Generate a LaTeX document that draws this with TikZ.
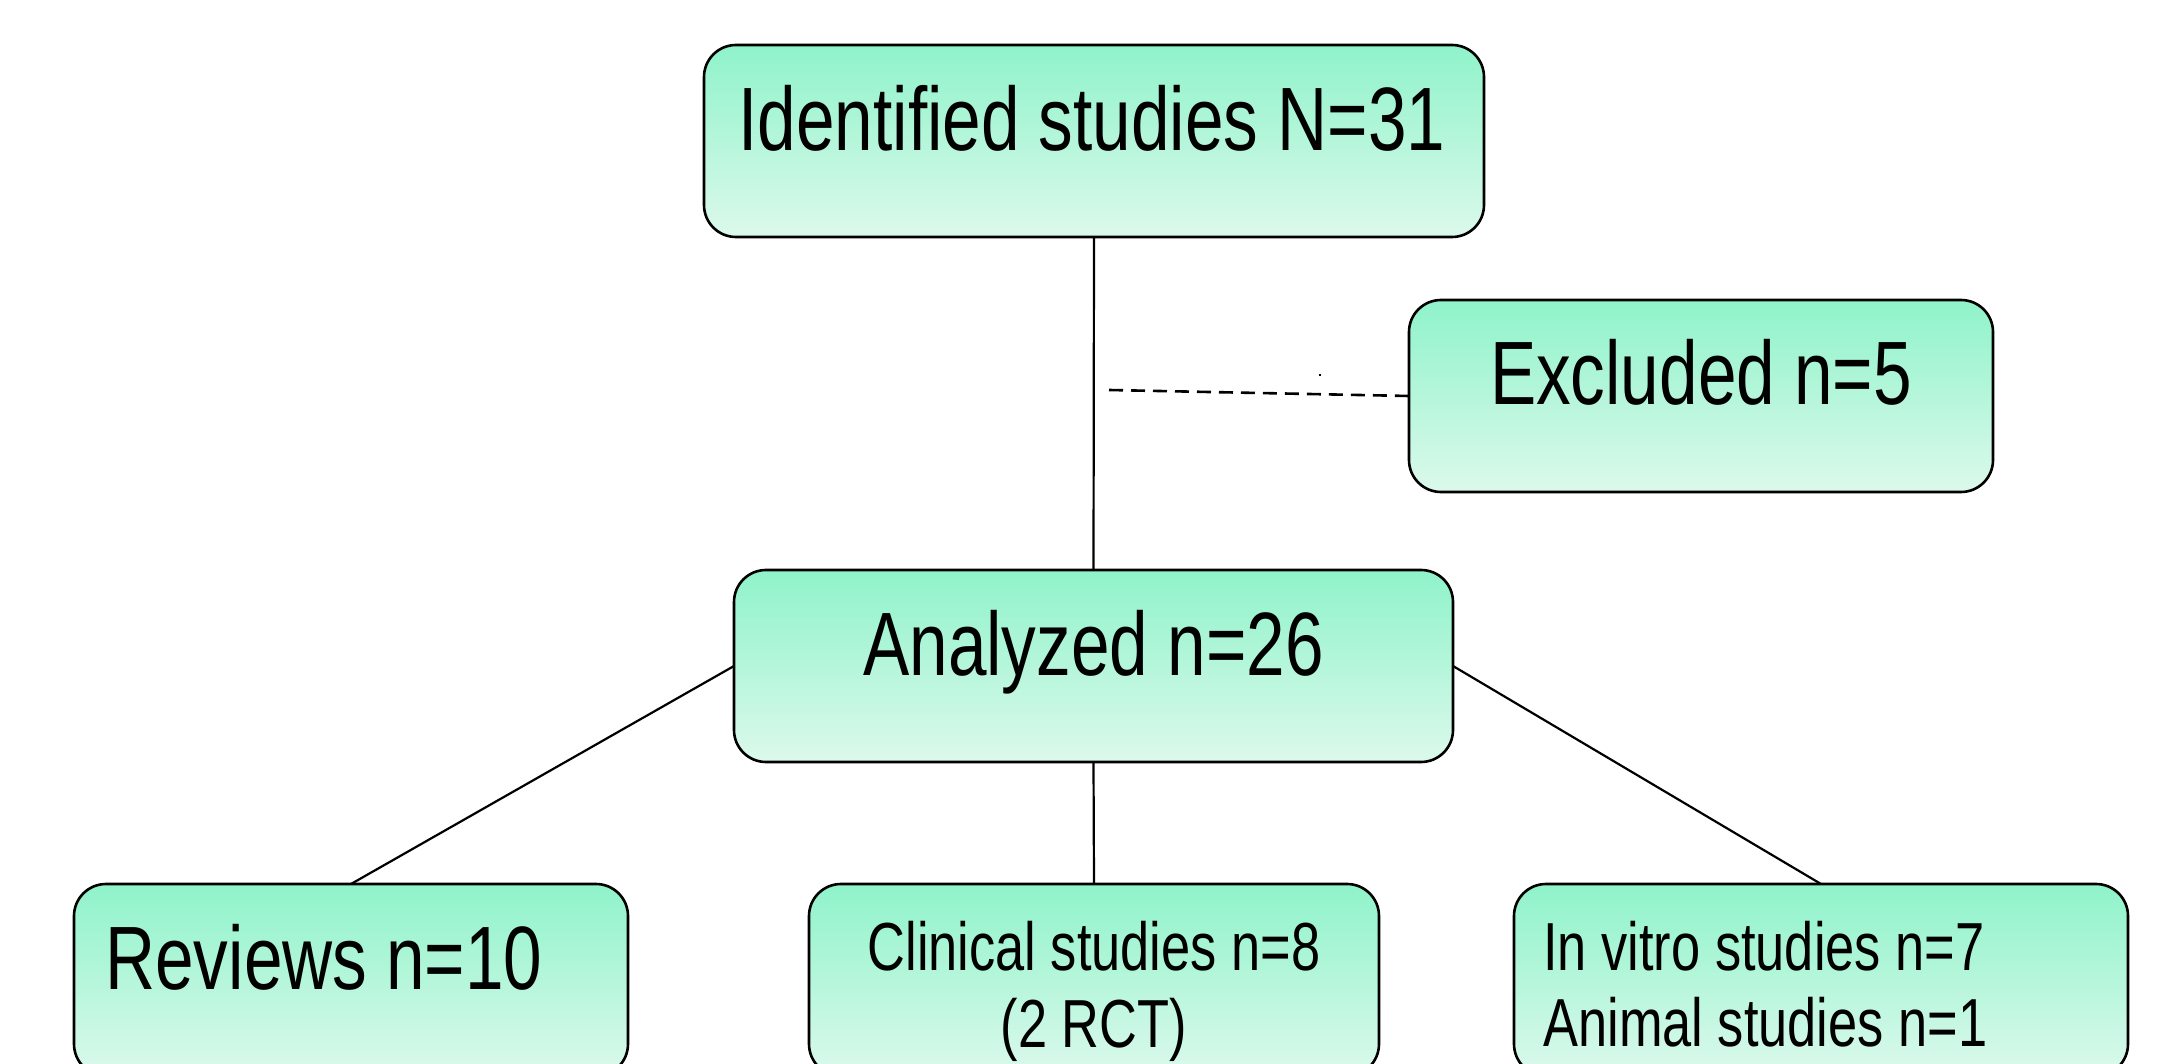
\documentclass[tikz,border=0pt]{standalone}
\usepackage{fontspec}
\setmainfont{Liberation Sans}[FakeStretch=0.77]
\definecolor{mintTop}{RGB}{143,243,202}
\definecolor{mintBot}{RGB}{220,249,236}
\begin{document}
\begin{tikzpicture}[x=0.5pt,y=-0.5pt,
  box/.style={draw=black,line width=1.3pt,rounded corners=16pt,top color=mintTop,bottom color=mintBot,
    rectangle,inner sep=0pt,outer sep=0pt},
  big/.style={font=\fontsize{45}{52}\selectfont,inner sep=0pt,anchor=base},
  small/.style={font=\fontsize{34}{38.5}\selectfont,inner sep=0pt,anchor=base},
  conn/.style={line width=1.1pt,draw=black}]
\clip (0,0) rectangle (2160,1064);
\fill[white] (0,0) rectangle (2160,1064);
% boxes
\node[box,minimum width=390pt,minimum height=96pt] (ident) at (1094,141) {};
\node[box,minimum width=292pt,minimum height=96pt] (excl) at (1701,396) {};
\node[box,minimum width=359.5pt,minimum height=96pt] (anal) at (1093.5,666) {};
\node[box,minimum width=277pt,minimum height=96pt] (rev) at (351,980) {};
\node[box,minimum width=285pt,minimum height=96pt] (clin) at (1094,980) {};
\node[box,minimum width=307pt,minimum height=96pt] (vitro) at (1821,980) {};
% texts
\node[big] (tident) at (1092,151) {Identified studies N=31};
\node[big] (texcl) at (1701,405) {Excluded n=5};
\node[big] (tanal) at (1093.5,675) {Analyzed n=26};
\node[big,anchor=base west] (trev) at (105,989) {Reviews n=10};
\node[small] (tclin1) at (1094,970) {Clinical studies n=8};
\node[small] (tclin2) at (1094,1047) {(2 RCT)};
\node[small,anchor=base west] (tvit1) at (1543,970) {In vitro studies n=7};
\node[small,anchor=base west] (tvit2) at (1543,1046) {Animal studies n=1};
% connectors
\coordinate (dstart) at (1109,390);
\coordinate (speck) at (1320,374);
\draw[conn] (ident.south) -- (anal.north);
\draw[line width=1.3pt,dash pattern=on 7pt off 4pt] (dstart) -- (excl.west);
\draw[line width=0.6pt] (speck) -- ++(0,2);
\draw[conn] (anal.west) -- (rev.north);
\draw[conn] (anal.east) -- (vitro.north);
\draw[conn] (anal.south) -- (clin.north);
\end{tikzpicture}
\end{document}
